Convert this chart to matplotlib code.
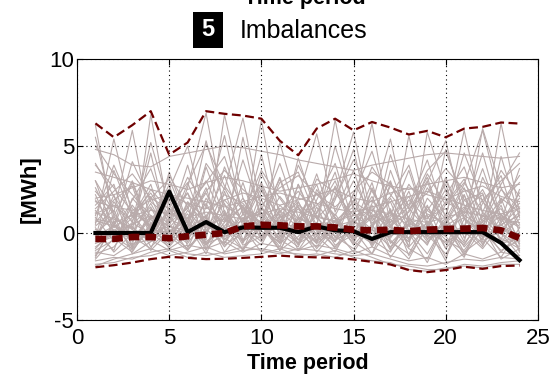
import numpy as np
import matplotlib
matplotlib.use("Agg")
import matplotlib.pyplot as plt
from matplotlib.patches import Rectangle

plt.rcParams["font.family"] = ["Liberation Sans", "DejaVu Sans"]
plt.rcParams["axes.unicode_minus"] = False

# time periods
periods = list(range(1, 25))

# scenario imbalances (grey lines)
scenarios = [
    [6.2, 0.5, -0.8, 6.8, 1.0, -0.5, 2.0, 0.3, -1.0, 1.5, 0.2, -0.6, 2.5, 0.8, -0.4, 1.2, 3.0, 0.1, -1.2, 0.6, 2.2, -0.3, 0.5, 1.0],
    [4.8, 4.5, 3.9, 3.8, 4.4, 4.6, 4.8, 5.0, 4.9, 4.7, 4.5, 4.2, 4.0, 3.8, 3.6, 3.9, 4.1, 4.3, 4.5, 4.6, 4.5, 4.4, 4.3, 4.4],
    [3.0, 1.2, 5.9, 0.4, -0.3, 2.6, 6.9, 1.1, 0.2, 6.5, 0.8, -0.7, 1.9, 4.0, 0.5, 2.1, -0.2, 5.6, 0.9, 1.4, -0.5, 3.2, 1.0, 0.3],
    [-1.9, -1.5, -1.2, -0.9, -1.3, -1.1, -0.8, -1.2, -1.0, -0.9, -1.1, -1.2, -1.3, -1.0, -1.4, -1.6, -1.7, -2.1, -2.2, -2.0, -1.9, -2.0, -1.8, -1.8],
    [0.5, 5.4, 1.0, -0.2, 3.5, 0.6, -0.4, 6.8, 2.0, 0.3, 5.2, 1.5, -0.5, 2.2, 5.8, 0.7, 1.8, -0.8, 5.8, 2.4, 0.2, 6.0, 2.6, 0.5],
    [2.0, 2.2, 2.6, 3.0, 2.8, 2.5, 2.9, 3.2, 3.0, 2.7, 2.4, 2.6, 2.8, 3.1, 3.4, 3.0, 2.7, 2.5, 2.8, 3.0, 3.2, 2.9, 2.6, 2.8],
    [-0.5, 1.8, 0.2, 4.6, 0.0, -0.9, 1.5, 0.6, 4.2, 1.0, -0.3, 2.8, 0.4, 6.5, 1.2, -0.6, 3.6, 0.8, -0.2, 4.8, 1.6, 0.0, 6.3, 1.2],
    [1.2, 0.8, 0.3, -0.4, 0.6, 3.9, 0.2, -0.6, 1.4, 0.9, 3.1, 0.0, -0.8, 0.7, 1.5, 6.3, 0.4, -0.5, 2.0, 0.8, 5.9, 1.1, -0.4, 2.5],
    [-1.2, -0.8, 0.5, 1.5, -0.6, 0.9, -1.0, 2.4, -0.4, 0.6, -0.8, 1.8, -0.2, -1.1, 0.8, -0.5, 1.4, -1.3, 0.3, -1.6, 2.2, -0.7, 0.9, -1.0],
    [3.5, 3.2, 2.9, 2.5, 2.2, 2.0, 1.8, 1.5, 1.8, 2.1, 2.3, 2.0, 1.7, 1.4, 1.2, 1.5, 1.8, 2.1, 2.4, 2.0, 1.6, 1.3, 1.1, 1.4],
    [0.0, -1.0, 2.0, 0.8, -0.6, 1.7, 0.5, -0.2, 5.5, 0.6, -1.0, 0.9, 2.8, -0.3, 0.4, 2.9, -0.6, 0.5, 1.0, -0.9, 1.9, 2.3, -0.5, -0.2],
    [5.5, 1.0, 3.0, 0.2, 2.5, 5.0, 0.8, 3.3, 0.4, 2.6, 0.0, 4.3, 1.1, 3.5, -0.4, 1.7, 5.4, 0.6, 2.9, 5.3, 0.8, 3.7, 0.6, 2.0],
    [-1.6, -1.4, -1.5, -1.1, -0.9, -1.2, -1.3, -1.1, -0.8, -1.0, -1.2, -0.9, -1.0, -1.2, -1.3, -1.2, -1.5, -1.8, -1.9, -1.7, -1.5, -1.6, -1.4, -1.5],
    [1.6, 2.8, -0.5, 1.0, 0.4, -0.2, 3.8, 0.9, 0.0, 3.4, 1.3, 0.3, -0.6, 2.7, 0.6, 0.1, 4.5, 1.4, 0.2, 3.0, 0.8, -0.4, 4.4, 0.9],
    [-0.9, 0.2, -0.4, 0.8, 1.9, -0.3, 0.7, -0.8, 0.4, -0.5, 1.0, -0.4, 0.6, -0.9, 0.3, 1.0, -1.0, 0.2, -0.6, 0.9, -0.8, 0.4, -1.1, 0.0],
    [2.6, 0.4, 4.1, 1.8, 0.9, 3.2, 1.5, 5.6, 1.0, 2.9, 0.5, 2.0, 5.7, 1.2, 3.6, 0.4, 2.7, 1.6, 4.2, 0.8, 2.8, 5.9, 1.7, 3.3],
    [0.8, 0.6, 1.0, 1.3, 1.1, 0.9, 1.2, 1.0, 0.8, 1.1, 1.4, 1.2, 0.9, 0.7, 1.0, 1.3, 1.1, 0.8, 0.6, 0.9, 1.2, 1.0, 0.8, 0.6],
    [-1.4, 0.7, -1.0, 0.3, -0.7, 0.5, -1.2, 1.2, -0.5, 0.4, -1.0, 0.8, -0.6, 0.2, -1.1, 0.5, -1.4, 0.0, -1.7, 0.6, -1.3, 0.3, -1.5, -0.9],
    [4.0, 2.1, 0.6, 5.2, 1.6, 0.3, 4.0, 2.5, 6.6, 1.4, 0.5, 3.9, 1.7, 0.2, 2.2, 4.7, 1.2, 0.4, 2.6, 1.0, 4.6, 1.8, 0.7, 3.7],
    [0.2, -0.3, 0.6, -0.1, 0.4, 0.1, -0.5, 0.3, 0.7, -0.2, 0.5, 0.0, 0.3, -0.4, 0.1, -0.6, 0.2, 0.4, -0.3, 0.1, 0.3, -0.2, 0.0, -1.3],
    [-0.3, 3.6, 0.9, 2.1, -0.4, 1.3, 0.0, 2.6, 0.6, 4.5, 0.2, 1.4, -0.1, 1.9, 4.8, 0.3, 2.0, 0.0, 1.3, 2.8, -0.3, 1.7, 3.3, 0.0],
    [1.8, 1.5, 1.3, 1.9, 2.2, 1.7, 1.4, 1.9, 2.3, 2.0, 1.6, 1.9, 2.2, 2.5, 2.0, 1.8, 2.3, 2.6, 2.2, 1.9, 2.4, 2.7, 2.1, 1.8],
    [-1.0, -0.4, 1.2, -0.8, 0.2, -0.6, 0.9, -0.3, -0.9, 0.5, -0.4, -1.0, 0.6, -0.2, -0.9, 0.4, -0.5, -1.2, 0.7, -0.4, -1.0, 0.5, -0.6, -0.3],
    [3.0, 0.0, 1.9, 3.7, 0.7, 2.3, 0.4, 3.8, 1.4, 0.6, 3.2, 0.4, 2.3, 1.0, 3.0, 0.9, 2.1, 3.9, 0.5, 2.2, 3.8, 0.6, 2.5, 1.4],
    [0.4, 1.3, -0.7, 0.1, 1.2, 2.3, -0.6, 0.4, 1.6, -0.4, 0.9, 1.5, 0.1, -0.5, 1.1, 0.2, -0.3, 1.3, 3.2, 0.1, -0.7, 1.0, 0.3, -0.5],
    [-1.8, -1.7, -1.4, -1.3, -1.0, -1.4, -1.1, -1.4, -1.3, -1.2, -0.9, -1.3, -1.2, -1.4, -1.0, -1.4, -1.8, -1.9, -2.1, -2.1, -1.8, -1.9, -1.7, -1.6],
    [1.0, 3.9, 1.4, 0.3, 2.0, 0.6, 5.3, 1.6, 0.8, 1.3, 4.0, 0.9, 0.4, 5.0, 1.5, 0.6, 1.0, 3.6, 0.3, 1.8, 1.2, 4.6, 0.8, 1.7],
    [2.2, -0.2, 0.9, 2.8, -0.5, 0.7, 2.3, 0.0, 2.9, -0.3, 1.6, 0.5, 3.4, 0.3, -0.2, 2.5, 0.4, 2.4, -0.4, 0.6, 2.6, -0.1, 1.8, 2.9],
    [-0.6, -0.2, -0.9, 0.4, 2.8, -0.8, 0.1, 1.1, -0.7, -0.2, 0.5, -0.6, 0.0, 0.7, -0.6, 1.6, -0.9, 0.8, -0.1, -1.2, 0.4, -0.8, 2.0, -0.7],
    [1.4, 2.4, 3.4, 2.0, 1.4, 0.8, 2.4, 3.6, 2.5, 1.6, 2.6, 3.3, 2.2, 1.5, 2.4, 3.5, 2.8, 1.4, 2.3, 3.7, 2.5, 1.9, 3.0, 4.0],
    [0.0, 0.9, 0.2, -0.5, 0.8, 0.3, 1.7, -0.1, 0.5, 1.2, -0.4, 0.9, 0.2, -0.8, 0.6, 1.4, 0.0, -0.3, 1.1, 0.5, -0.6, 0.8, 1.4, -0.4],
    [-0.2, 0.4, 2.9, 0.0, -0.8, 0.5, 2.6, -0.6, 0.9, 0.1, -0.5, 2.8, 0.2, 0.9, -0.7, 0.5, 1.2, -0.8, 0.4, 3.2, 0.3, -0.6, 0.6, 2.3],
    [0.9, -0.5, 1.6, 0.2, 0.0, 1.1, -0.7, 0.6, 2.0, -0.1, 0.7, 1.8, -0.4, 0.5, 1.3, -0.8, 0.9, 2.1, -0.2, 0.6, 1.5, -0.5, 0.2, 1.2],
    [-1.5, -0.3, -1.1, 0.6, -0.9, -0.2, 1.0, -1.1, 0.2, -0.7, 1.3, -1.0, -0.2, 1.1, -0.5, -1.2, 0.4, -0.9, -1.5, 0.8, -1.1, -0.3, -1.4, 0.3],
    [2.4, 1.1, -0.2, 2.0, 3.1, 0.5, -0.1, 1.9, 0.7, 2.8, -0.2, 0.6, 2.3, 0.9, -0.3, 2.6, 0.4, 1.2, 3.0, -0.2, 1.4, 2.2, -0.1, 0.8],
    [-0.4, 2.2, -0.9, 1.4, 0.5, -1.0, 0.3, 1.7, -0.6, 1.9, 0.0, -0.8, 1.5, -0.5, 2.3, -0.7, 0.8, -0.3, 1.6, -0.9, 0.4, 1.9, -0.6, 1.1],
    [1.3, 0.1, 0.5, 1.0, -0.5, 1.8, 0.8, -0.4, 1.1, 0.4, -0.6, 1.6, 0.9, -0.2, 0.8, 1.9, 0.3, -0.5, 1.5, 0.2, 0.9, -0.2, 1.6, -1.1],
    [-1.1, -1.3, -0.6, -0.4, -1.0, -0.7, -0.9, -0.5, -1.1, -0.6, -0.8, -1.0, -0.7, -0.9, -1.2, -0.8, -1.3, -1.6, -1.4, -1.8, -1.2, -1.5, -1.1, -1.3],
    [0.6, 1.9, 2.7, -0.3, 1.5, 2.9, 0.1, 1.3, -0.5, 2.4, 1.0, -0.4, 1.2, 3.0, 0.2, -0.6, 2.9, 0.5, -0.7, 1.7, 3.1, 0.2, 1.0, 0.4],
    [-0.8, 0.0, 0.4, -1.0, 0.1, 0.7, -0.6, -0.2, 0.3, -1.1, 0.0, 0.6, -0.9, 0.4, -0.3, 0.2, -0.8, 0.6, 0.0, -0.5, 0.1, -0.9, 0.5, -0.6],
    [1.9, 0.3, 1.1, 2.3, 0.6, 1.4, 3.0, 0.7, 1.5, 0.2, 2.1, 0.8, 1.6, 2.6, 0.1, 1.0, 0.6, 2.8, 1.3, 0.4, 1.1, 2.5, 0.4, 1.5],
    [0.3, -1.1, 0.0, 1.7, -0.2, -1.0, 0.6, -0.7, 0.0, 1.5, -0.6, 0.3, -1.1, 0.1, 1.9, -0.4, -1.1, 0.9, -0.5, 0.3, -1.2, 0.7, 1.1, -0.6],
    [3.9, 2.6, 1.2, 0.4, 3.3, 1.5, 2.9, 4.4, 1.1, 3.6, 2.0, 0.5, 3.1, 2.3, 1.0, 3.8, 2.2, 0.9, 3.4, 1.6, 2.9, 1.2, 3.6, 2.1],
    [-1.3, 0.5, -0.2, -0.9, 1.4, 0.2, -0.7, 0.9, -1.0, 0.4, 1.1, -0.6, 0.5, -0.4, 0.2, -1.2, 1.3, -0.4, 0.6, -1.4, 0.8, 0.1, -1.0, -0.4],
    [1.1, 1.6, 0.7, 2.5, 1.3, 0.2, 1.0, 2.2, 1.7, 0.5, 1.2, 2.4, 1.0, 0.6, 1.8, 1.1, 0.3, 1.9, 0.8, 2.5, 1.0, 0.4, 2.0, 1.2],
    [-0.1, 1.0, -1.2, -0.5, 0.3, 1.5, -0.9, 0.1, -0.4, 0.8, -1.0, -0.2, 1.0, -0.7, -0.1, 0.9, -0.4, -1.5, 0.5, -0.2, -1.4, 1.2, 0.0, -0.8],
    [5.0, 3.4, 2.2, 1.0, 0.4, 2.8, 5.1, 2.7, 1.3, 0.5, 2.9, 3.5, 0.8, 2.0, 4.2, 2.4, 0.6, 1.5, 3.6, 4.7, 1.9, 0.9, 2.8, 4.6],
    [0.7, 0.4, -0.3, 0.9, 0.2, -0.2, 0.5, 0.8, 0.1, -0.3, 0.6, 0.3, -0.5, 0.4, 0.7, 0.0, -0.2, 0.5, 0.3, -0.6, 0.2, 0.6, -0.3, -0.9],
]

# envelopes and mean (dark red dashed)
upper = [6.3, 5.5, 6.2, 7.0, 4.5, 5.2, 7.0, 6.85, 6.75, 6.57, 5.3, 4.47,
         6.0, 6.57, 5.9, 6.38, 6.06, 5.66, 5.87, 5.5, 6.0, 6.1, 6.35, 6.29]
lower = [-1.97, -1.85, -1.7, -1.5, -1.37, -1.43, -1.5, -1.48, -1.43, -1.37, -1.3, -1.37,
         -1.4, -1.43, -1.52, -1.66, -1.81, -2.13, -2.25, -2.13, -1.94, -2.06, -1.9, -1.87]
mean = [-0.34, -0.34, -0.23, -0.23, -0.3, -0.19, -0.1, 0.0, 0.38, 0.47, 0.44, 0.38,
        0.38, 0.32, 0.19, 0.15, 0.19, 0.1, 0.19, 0.23, 0.25, 0.29, 0.15, -0.29]

# realised imbalance (black)
actual = [0.0, 0.0, 0.0, 0.0, 2.38, 0.05, 0.63, 0.05, 0.32, 0.3, 0.3, 0.05,
          0.38, 0.15, 0.1, -0.34, 0.05, 0.05, 0.05, 0.05, 0.05, 0.05, -0.57, -1.56]

GREY = "#b9abab"
DARKRED = "#6e0000"

fig = plt.figure(figsize=(5.52, 3.77), dpi=100)
ax = fig.add_axes([0.1395, 0.1512, 0.835, 0.6923])

for s in scenarios:
    ax.plot(periods, s, color=GREY, lw=0.8, zorder=1)

ax.plot(periods, upper, color=DARKRED, lw=1.6, dashes=(4, 2), zorder=3)
ax.plot(periods, lower, color=DARKRED, lw=1.6, dashes=(4, 2), zorder=3)
ax.plot(periods, actual, color="black", lw=3.0, zorder=4)
ax.plot(periods, mean, color=DARKRED, lw=4.8, dashes=(1.6, 0.9), zorder=5)

ax.set_xlim(0, 25)
ax.set_ylim(-5, 10)
ax.set_xticks([0, 5, 10, 15, 20, 25])
ax.set_yticks([-5, 0, 5, 10])
ax.grid(True, color="black", linestyle=(0, (1, 3)), lw=0.8)
ax.tick_params(direction="in", top=True, right=True, labelsize=16, length=4, width=0.8)
ax.tick_params(axis="x", pad=6)
ax.tick_params(axis="y", pad=2)
for sp in ax.spines.values():
    sp.set_linewidth(0.8)

ax.set_xlabel("Time period", fontsize=15.5, fontweight="bold", labelpad=3)
ax.set_ylabel("[MWh]", fontsize=16, fontweight="bold", labelpad=6)

# panel title: numbered black box + label
fig.add_artist(Rectangle((193 / 552, 1 - 48 / 377), 30 / 552, 36 / 377,
                         transform=fig.transFigure, facecolor="black", edgecolor="none"))
fig.text(208 / 552, 1 - 30 / 377, "5", fontsize=17, fontweight="bold", color="white",
         ha="center", va="center")
fig.text(304 / 552, 1 - 31 / 377, "Imbalances", fontsize=18, ha="center", va="center")

# clipped x-label of the panel above
fig.text(305 / 552, 1 - 4 / 377, "Time period", fontsize=15.5, fontweight="bold",
         ha="center", va="baseline")

fig.savefig("out.png", dpi=100)
